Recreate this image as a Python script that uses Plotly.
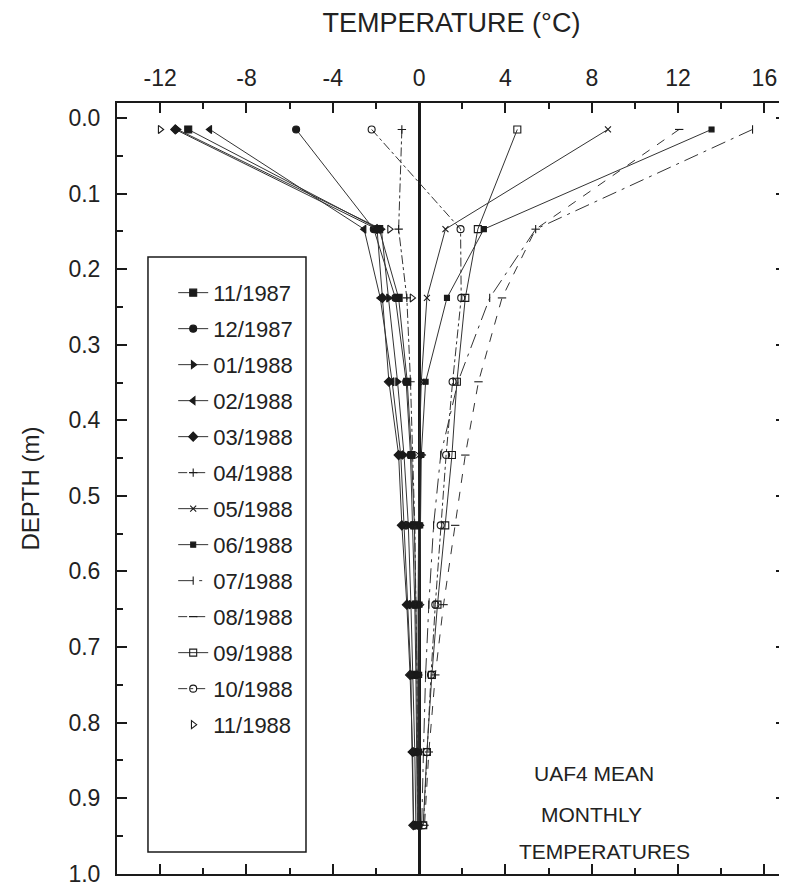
import plotly.graph_objects as go

# ---------------- data ----------------
depth_m = [0.015, 0.147, 0.238, 0.349, 0.446, 0.539, 0.644, 0.737, 0.839, 0.936]

months = ["11/1987", "12/1987", "01/1988", "02/1988", "03/1988", "04/1988",
          "05/1988", "06/1988", "07/1988", "08/1988", "09/1988", "10/1988", "11/1988"]

t_nov87 = [-10.7, -1.85, -0.95, -0.55, -0.35, -0.22, -0.15, -0.10, -0.08, -0.05]
t_dec87 = [-5.7, -2.10, -1.10, -0.60, -0.40, -0.30, -0.20, -0.15, -0.10, -0.08]
t_jan88 = [-11.2, -1.75, -1.42, -1.00, -0.70, -0.50, -0.38, -0.28, -0.20, -0.15]
t_feb88 = [-9.7, -2.55, -1.80, -1.25, -0.85, -0.70, -0.50, -0.38, -0.33, -0.25]
t_mar88 = [-11.3, -1.95, -1.70, -1.40, -0.95, -0.80, -0.57, -0.42, -0.30, -0.27]
t_apr88 = [-0.8, -0.95, -0.57, -0.40, -0.30, -0.20, -0.15, -0.10, -0.08, -0.05]
t_may88 = [8.75, 1.22, 0.36, 0.10, 0.00, -0.03, -0.05, -0.05, -0.04, -0.03]
t_jun88 = [13.55, 3.00, 1.29, 0.30, 0.10, 0.05, 0.02, 0.00, 0.00, 0.00]
t_jul88 = [15.45, 5.40, 3.27, 1.80, 1.00, 0.67, 0.45, 0.30, 0.20, 0.12]
t_aug88 = [12.05, 5.40, 3.84, 2.75, 2.14, 1.67, 1.13, 0.75, 0.45, 0.25]
t_sep88 = [4.55, 2.72, 2.14, 1.75, 1.52, 1.21, 0.85, 0.59, 0.36, 0.19]
t_oct88 = [-2.2, 1.92, 1.95, 1.55, 1.25, 1.00, 0.75, 0.55, 0.36, 0.20]
t_nov88 = [-12.0, -1.37, -0.33, 0.10, 0.13, 0.05, 0.05, -0.03, 0.00, 0.02]

series = [t_nov87, t_dec87, t_jan88, t_feb88, t_mar88, t_apr88, t_may88,
          t_jun88, t_jul88, t_aug88, t_sep88, t_oct88, t_nov88]

x_tick_vals = [-12, -8, -4, 0, 4, 8, 12, 16]
y_tick_vals = [0.0, 0.1, 0.2, 0.3, 0.4, 0.5, 0.6, 0.7, 0.8, 0.9, 1.0]
note_lines = ["UAF4 MEAN", "MONTHLY", "TEMPERATURES"]

# ---------------- styles ----------------
styles = [
    dict(symbol="square", size=7, dash="solid", mode="lines+markers"),
    dict(symbol="circle", size=7, dash="solid", mode="lines+markers"),
    dict(symbol="triangle-right", size=7, dash="solid", mode="lines+markers"),
    dict(symbol="triangle-left", size=7, dash="solid", mode="lines+markers"),
    dict(symbol="diamond", size=7, dash="solid", mode="lines+markers"),
    dict(symbol="cross-thin-open", size=6, dash="dashdot", mode="lines+markers"),
    dict(symbol="x-thin-open", size=6, dash="solid", mode="lines+markers"),
    dict(symbol="square", size=5, dash="solid", mode="lines+markers"),
    dict(symbol="line-ns-open", size=6, dash="longdashdot", mode="lines+markers"),
    dict(symbol="line-ew-open", size=6, dash="dash", mode="lines+markers"),
    dict(symbol="square-open", size=7, dash="solid", mode="lines+markers"),
    dict(symbol="circle-open", size=7, dash="dashdot", mode="lines+markers"),
    dict(symbol="triangle-right-open", size=7, dash="solid", mode="markers"),
]

FONT = "Liberation Sans, Arial, sans-serif"
ink = "#1a1a1a"

fig = go.Figure()
for name, temps, st in zip(months, series, styles):
    fig.add_trace(go.Scatter(
        x=temps, y=depth_m, name=name, mode=st["mode"], legendgroup=name,
        line=dict(color="#333333", width=1, dash=st["dash"]),
        marker=dict(symbol=st["symbol"], size=st["size"], color=ink,
                    line=dict(color=ink, width=1.1)),
    ))

axis_common = dict(
    showgrid=False, ticks="inside", ticklen=10, tickwidth=2, tickcolor=ink,
    showline=True, linecolor=ink, linewidth=2, mirror="ticks",
    tickfont=dict(family=FONT, size=23, color="#222"),
    ticklabeloverflow="allow",
)

fig.update_xaxes(
    **axis_common, side="top", range=[-14, 17], tickmode="array",
    tickvals=x_tick_vals, ticktext=[str(v) for v in x_tick_vals],
    zeroline=True, zerolinecolor=ink, zerolinewidth=2.5,
    minor=dict(ticks="inside", dtick=2, tick0=0, ticklen=6, tickwidth=1.5,
               tickcolor=ink, showgrid=False),
    ticklabelstandoff=6,
    title=dict(text="TEMPERATURE (°C)", font=dict(family=FONT, size=27, color="#222"),
               standoff=28),
)
fig.update_yaxes(
    **axis_common, range=[1.0005, -0.02], tickmode="array",
    tickvals=y_tick_vals, ticktext=[f"{v:.1f}" for v in y_tick_vals],
    zeroline=False,
    minor=dict(ticks="inside", dtick=0.05, tick0=0, ticklen=6, tickwidth=1.5,
               tickcolor=ink, showgrid=False),
    ticklabelstandoff=10,
    title=dict(text="DEPTH (m)", font=dict(family=FONT, size=24, color="#222"),
               standoff=22),
)

# legend frame
fig.add_shape(type="rect", xref="paper", yref="paper",
              x0=0.0463, x1=0.2825, y0=0.0285, y1=0.8003,
              line=dict(color=ink, width=1.5), fillcolor="rgba(0,0,0,0)")

for txt, xv, yv in zip(note_lines, [8.1, 8.0, 8.6], [0.867, 0.922, 0.971]):
    fig.add_annotation(x=xv, y=yv, xref="x", yref="y", text=txt, showarrow=False,
                       font=dict(family=FONT, size=21, color="#222"))

# page body adds an 8 px margin, so the figure is 8 px smaller and offset
fig.update_layout(
    width=779, height=878,
    margin=dict(l=109, r=1, t=95, b=12, autoexpand=False),
    paper_bgcolor="white", plot_bgcolor="white",
    font=dict(family=FONT, color="#222"),
    showlegend=True,
    legend=dict(x=0.084, y=0.781, xanchor="left", yanchor="top",
                bgcolor="rgba(0,0,0,0)", borderwidth=0,
                font=dict(family=FONT, size=22, color="#222"),
                tracegroupgap=4.4, traceorder="grouped", itemwidth=30),
)

fig.write_html("out.html")
